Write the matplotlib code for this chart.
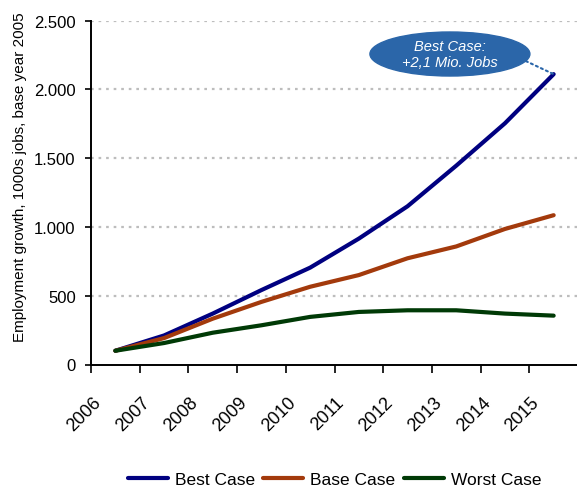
import matplotlib
matplotlib.use("Agg")
import matplotlib.pyplot as plt
import matplotlib.transforms as mtransforms
from matplotlib.patches import Ellipse
from matplotlib.ticker import FixedLocator, FuncFormatter

plt.rcParams['font.family'] = ['Liberation Sans', 'DejaVu Sans']

years = ["2006", "2007", "2008", "2009", "2010", "2011", "2012", "2013", "2014", "2015"]
best_case = [100, 211, 370, 541, 704, 915, 1150, 1445, 1753, 2110]
base_case = [100, 192, 333, 455, 565, 650, 772, 858, 985, 1085]
worst_case = [100, 156, 231, 285, 346, 382, 394, 394, 370, 355]
y_ticks = [0, 500, 1000, 1500, 2000, 2500]
y_label = "Employment growth, 1000s jobs, base year 2005"
note_text = "Best Case:\n+2,1 Mio. Jobs"

W, H = 577, 489
fig = plt.figure(figsize=(W / 100, H / 100), dpi=100)
ax = fig.add_axes([91 / W, (H - 365.5) / H, 487 / W, 344 / H])

x = list(range(len(years)))
ax.plot(x, best_case, color='#000080', lw=3.0, label='Best Case', solid_capstyle='round', zorder=3)
ax.plot(x, base_case, color='#A33A0C', lw=3.0, label='Base Case', solid_capstyle='round', zorder=3)
ax.plot(x, worst_case, color='#003A06', lw=3.0, label='Worst Case', solid_capstyle='round', zorder=3)

ax.set_xlim(-0.5, len(years) - 0.5)
ax.set_ylim(0, 2500)

# y axis
ax.set_yticks(y_ticks)
ax.yaxis.set_major_formatter(FuncFormatter(lambda v, p: f"{int(v):,}".replace(",", ".")))
ax.tick_params(axis='y', direction='out', length=4, width=1.2, pad=7, labelsize=12)
for yv in y_ticks[1:]:
    ax.axhline(yv, color='#BDBDBD', lw=1.6, linestyle=(0, (1.2, 2.2)), zorder=1)

# x axis
ax.set_xticks(x)
ax.set_xticklabels(years, rotation=45, ha='right', va='top', fontsize=13)
ax.xaxis.set_minor_locator(FixedLocator([i - 0.5 for i in range(len(years) + 1)]))
ax.tick_params(axis='x', which='major', length=0, pad=21)
ax.tick_params(axis='x', which='minor', direction='out', length=6, width=1.2)
offset = mtransforms.ScaledTranslation(-11 / 100, 0, fig.dpi_scale_trans)
for lbl in ax.get_xticklabels():
    lbl.set_transform(lbl.get_transform() + offset)

for side in ['top', 'right']:
    ax.spines[side].set_visible(False)
ax.spines['left'].set_linewidth(1.4)
ax.spines['bottom'].set_linewidth(1.4)

fig.text(20 / W, (H - 177) / H, y_label, rotation=90, ha='center', va='center', fontsize=11)

# annotation bubble
ell = Ellipse((0.737, 0.9026), 0.3285, 0.128, transform=ax.transAxes,
              facecolor='#2B66A9', edgecolor='#2B66A9', clip_on=False, zorder=5)
ax.add_patch(ell)
ax.text(0.737, 0.9026, note_text, transform=ax.transAxes, ha='center', va='center',
        color='white', fontstyle='italic', fontsize=10.5, linespacing=1.15, zorder=6)
ax.annotate('', xy=(x[-1], best_case[-1]), xycoords='data',
            xytext=(0.893, 0.882), textcoords='axes fraction',
            arrowprops=dict(arrowstyle='-', color='#2B66A9', lw=1.5, linestyle=':',
                            shrinkA=0, shrinkB=0), zorder=4)

fig.legend(loc='center', bbox_to_anchor=(334.5 / W, 9 / H), ncol=3, frameon=False,
           fontsize=12.5, handlelength=2.3, handletextpad=0.4, columnspacing=0.5)

fig.savefig('out.png', dpi=100)
